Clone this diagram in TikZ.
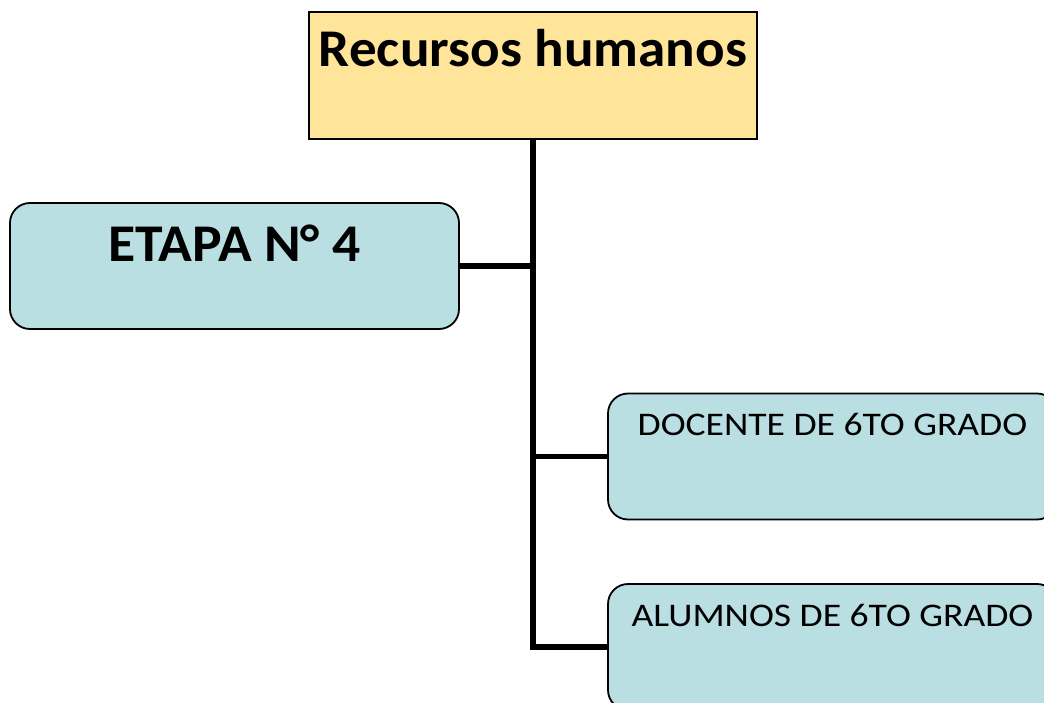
\documentclass[tikz,border=0pt]{standalone}
\usepackage{fontspec}
\setmainfont{Carlito}
\newfontfamily\headfont[FakeStretch=1.04]{Carlito}
\newfontfamily\etapafont[FakeStretch=1.05]{Carlito}
\newfontfamily\boxfont[FakeStretch=1.14]{Carlito}
\usepackage{tikz}
\usetikzlibrary{positioning}
\definecolor{headyellow}{HTML}{FFE599}
\definecolor{boxblue}{HTML}{B9DFE3}

\begin{document}
\begin{tikzpicture}[x=1pt, y=-1pt]
  \tikzset{HeadStyle/.style = {shape          = rectangle,
                                 draw           = black,
                                 fill           = headyellow,
                                 line width     = 1.8pt,
                                 inner sep      = 0pt,
                                 minimum width  = 448pt,
                                 minimum height = 127pt,
                                 text height    = 54.7pt,
                                 text depth     = 72.3pt,
                                 font           = \headfont\fontsize{53}{60}\selectfont\bfseries}}
  \tikzset{BoxStyle/.style = {shape          = rectangle,
                                 rounded corners = 20pt,
                                 draw           = black,
                                 fill           = boxblue,
                                 line width     = 1.8pt,
                                 inner sep      = 0pt,
                                 minimum width  = 449pt,
                                 minimum height = 126pt}}
  \tikzset{LinkStyle/.style = {draw=black, line width=5.5pt, line join=miter}}
  \useasboundingbox (0,0) rectangle (1044,703);
  \clip (0,0) rectangle (1044,703);
	%%% TITULO %%%
	\node[HeadStyle](hum) at (533,75.5){Recursos humanos};
	%%% ETAPA %%%
	\node[BoxStyle, text height=58.7pt, text depth=67.3pt,
	      font=\etapafont\fontsize{53}{60}\selectfont\bfseries](etapa) at (234.5,266){ETAPA N° 4};
	%%% RECURSOS %%%
	\node[BoxStyle, text height=42pt, text depth=84pt,
	      font=\boxfont\fontsize{33}{40}\selectfont](docente) at (832.5,456.5){DOCENTE DE 6TO GRADO};
	\node[BoxStyle, text height=42pt, text depth=84pt,
	      font=\boxfont\fontsize{33}{40}\selectfont](alumnos) at (832.5,647){ALUMNOS DE 6TO GRADO};
	%%% LINEAS %%%
	\draw[LinkStyle](hum.south) |- (alumnos.west);
	\draw[LinkStyle](etapa.east) -- (etapa.east -| hum.south);
	\draw[LinkStyle](docente.west) -- (docente.west -| hum.south);
\end{tikzpicture}
\end{document}
